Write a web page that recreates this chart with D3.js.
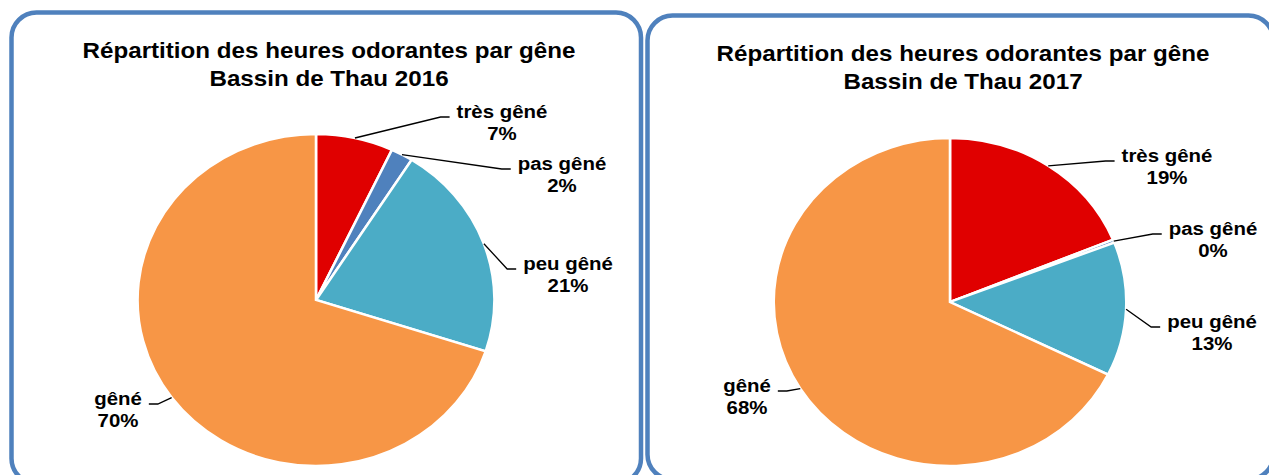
<!DOCTYPE html>
<html>
<head>
<meta charset="utf-8">
<script src="https://cdn.jsdelivr.net/npm/d3@7"></script>
<style>
    body { margin: 0; background: #ffffff; }
    svg { display: block; font-family: "Liberation Sans", Arial, sans-serif; }
</style>
</head>
<body>
<svg id="drawing_region"></svg>
<script>
// data
const categories = ['très gêné', 'pas gêné', 'peu gêné', 'gêné'];
const values_2016 = [7, 2, 21, 70];
const values_2017 = [18.8, 0.3, 13.2, 67.7];
const slice_colors = ['#e00000', '#4f81bd', '#4bacc6', '#f79646'];
const title_top = 'Répartition des heures odorantes par gêne';
const title_2016 = 'Bassin de Thau 2016';
const title_2017 = 'Bassin de Thau 2017';

const svg = d3.select('#drawing_region')
    .attr('width', 1269)
    .attr('height', 475);

class PieChart {

    constructor( config, data ) {
        this.config = config;
        this.data = data;
        this.init();
    }

    init() {
        let self = this;
        const c = self.config;

        self.chart = svg.append('g');

        self.chart.append('rect')
            .attr('x', c.panel.x)
            .attr('y', c.panel.y)
            .attr('width', c.panel.w)
            .attr('height', c.panel.h)
            .attr('rx', 25)
            .attr('ry', 25)
            .attr('fill', '#ffffff')
            .attr('stroke', '#4f81bd')
            .attr('stroke-width', 4.5);

        // the original picture is a little stretched sideways
        self.pie_area = self.chart.append('g')
            .attr('transform', `translate(${c.cx}, ${c.cy}) scale(${c.sx}, 1)`);

        self.pie = d3.pie()
            .sort(null)
            .value( d => d.value );

        self.arc = d3.arc()
            .innerRadius(0)
            .outerRadius(c.radius);
    }

    render() {
        let self = this;
        const c = self.config;

        const title = self.chart.append('text')
            .attr('transform', `translate(${c.title_x}, ${c.title_y}) scale(${c.sx}, 1)`)
            .attr('text-anchor', 'middle')
            .style('font-size', '22.5px')
            .style('font-weight', 'bold')
            .attr('fill', '#000000');
        title.append('tspan').attr('x', 0).attr('y', 0).text(title_top);
        title.append('tspan').attr('x', 0).attr('y', 28).text(c.title);

        const arcs = self.pie( self.data );

        self.pie_area.selectAll('path')
            .data(arcs)
            .enter()
            .append('path')
            .attr('d', self.arc)
            .attr('fill', d => d.data.color)
            .attr('stroke', '#ffffff')
            .attr('stroke-width', 2.4);

        arcs.forEach( (d, i) => {
            const pos = c.labels[i];
            const label = self.chart.append('text')
                .attr('transform', `translate(${pos[0]}, ${pos[1]}) scale(${c.sx}, 1)`)
                .attr('text-anchor', 'middle')
                .style('font-size', '19px')
                .style('font-weight', 'bold')
                .attr('fill', '#000000');
            const first = label.append('tspan').attr('x', 0).attr('y', 0).text(d.data.name);
            label.append('tspan').attr('x', 0).attr('y', 22.5).text(Math.round(d.data.value) + '%');

            const half = first.node().getComputedTextLength() * c.sx / 2;
            const mid = (d.startAngle + d.endAngle) / 2;
            const px = c.cx + c.sx * c.radius * Math.sin(mid);
            const py = c.cy - c.radius * Math.cos(mid);
            const ly = pos[1] - 1;
            let ex, bx;
            if (pos[0] > c.cx) {
                ex = pos[0] - half - 7;
                bx = ex - 9;
            } else {
                ex = pos[0] + half + 7;
                bx = ex + 9;
            }

            self.chart.append('path')
                .attr('d', d3.line()([[px, py], [bx, ly], [ex, ly]]))
                .attr('fill', 'none')
                .attr('stroke', '#000000')
                .attr('stroke-width', 1.3);
        });
    }
}

const make_data = values => values.map( (v, i) => ({ name: categories[i], value: v, color: slice_colors[i] }) );

const chart_2016 = new PieChart({
    panel: { x: 11.5, y: 12.5, w: 629.5, h: 471 },
    title: title_2016,
    title_x: 329, title_y: 58,
    cx: 316, cy: 300, radius: 166, sx: 1.075,
    labels: [[502, 118], [562, 170], [568, 270], [118, 405]]
}, make_data(values_2016));
chart_2016.render();

const chart_2017 = new PieChart({
    panel: { x: 647.5, y: 15.5, w: 626, h: 464 },
    title: title_2017,
    title_x: 963, title_y: 61,
    cx: 950, cy: 302, radius: 164, sx: 1.075,
    labels: [[1167, 162], [1213, 235], [1212, 328], [747, 392]]
}, make_data(values_2017));
chart_2017.render();
</script>
</body>
</html>
